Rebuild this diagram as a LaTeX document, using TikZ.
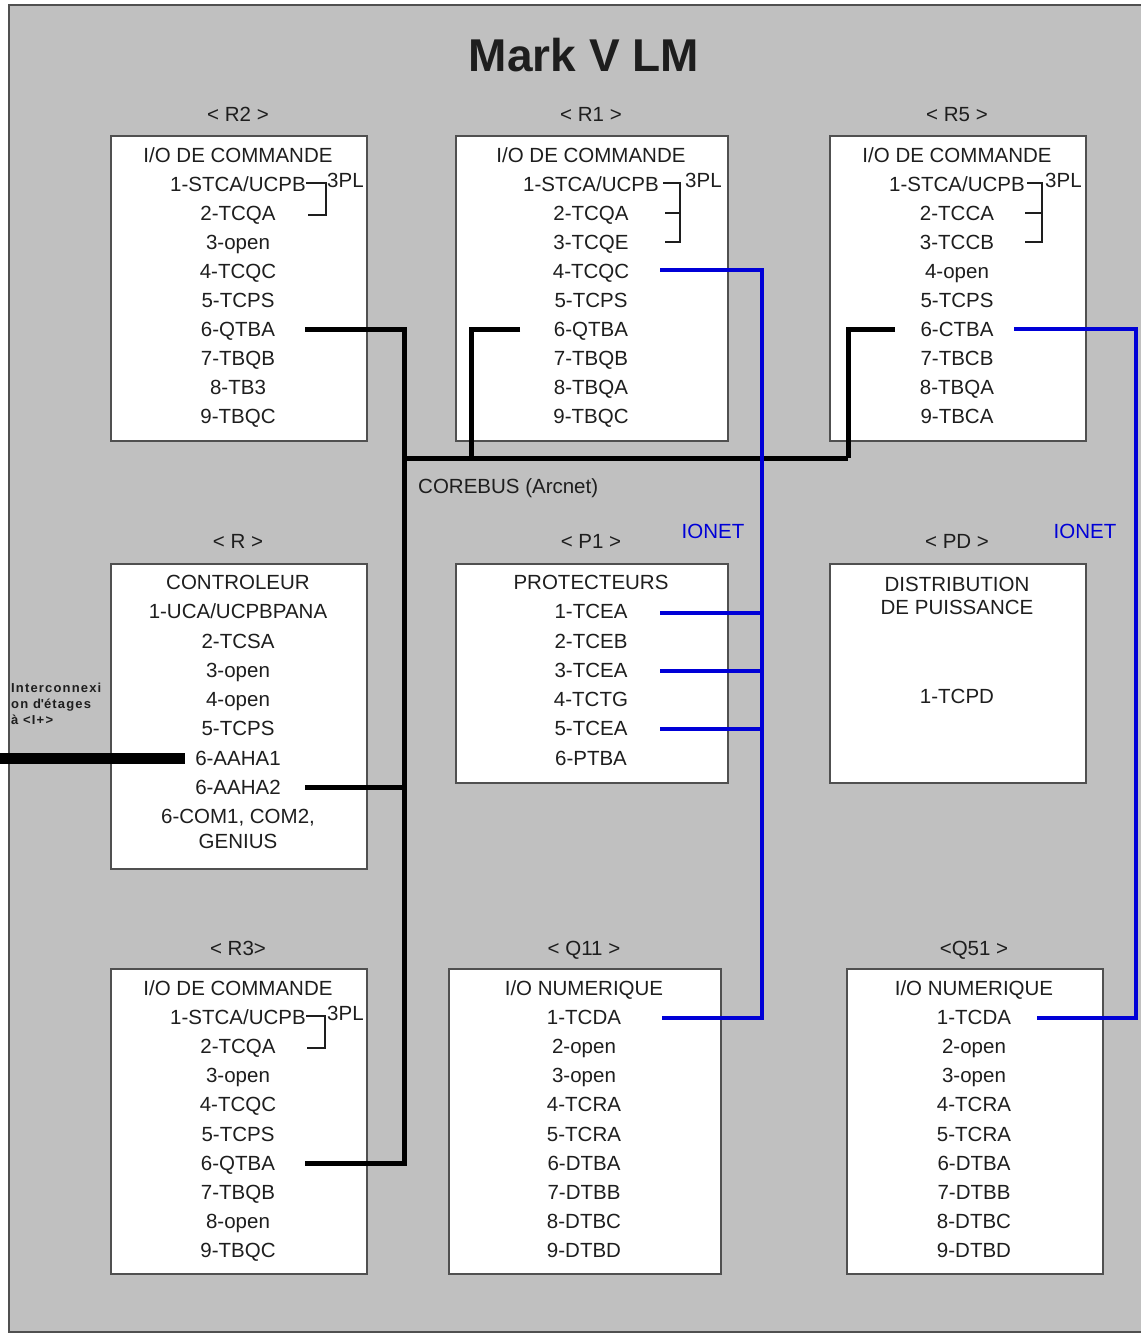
\documentclass[tikz,border=0pt]{standalone}
\usepackage{fontspec}
\setmainfont{Liberation Sans}
\newfontfamily\tinyfont[LetterSpace=9]{Liberation Sans}
\usetikzlibrary{calc}
\definecolor{bg}{HTML}{C0C0C0}
\definecolor{ionet}{RGB}{0,0,215}
\definecolor{frame}{HTML}{505050}
\definecolor{ink}{HTML}{1E1E1E}
\newcommand\itemlist[5]{\foreach \t [count=\i] in {#5} \node[item] (#1-\i) at (#2,{#3+7.5+#4*(\i-1)}) {\t};}
\begin{document}
\begin{tikzpicture}[x=1pt,y=-1pt,
 box/.style={draw=frame,line width=1.6pt,fill=white,anchor=north west,inner sep=0pt},
 item/.style={inner sep=0pt,anchor=base,font=\fontsize{20.5}{24}\selectfont,text=ink},
 lbl/.style={inner sep=0pt,anchor=base,font=\fontsize{20.5}{24}\selectfont,text=ink},
 tinytxt/.style={inner sep=0pt,anchor=base west,font=\tinyfont\fontsize{13}{15}\selectfont\bfseries,text=ink},
 bus/.style={line width=5pt,black},
 ionetline/.style={line width=4pt,ionet},
 brk/.style={line width=1.5pt,ink}
]
\useasboundingbox (0,0) rectangle (1141,1334);
\fill[white] (0,0) rectangle (1141,1334);
\draw[fill=bg,draw=frame,line width=1.5pt] (9,5) rectangle (1146,1332);

% title
\node[inner sep=0pt,anchor=base,font=\fontsize{46}{50}\selectfont\bfseries,text=ink] (title) at (584,71) {Mark V LM};

% boxes
\node[box,minimum width=256pt,minimum height=305pt] (r2box) at (110,135) {};
\node[box,minimum width=272pt,minimum height=305pt] (r1box) at (455,135) {};
\node[box,minimum width=256pt,minimum height=305pt] (r5box) at (829,135) {};
\node[box,minimum width=256pt,minimum height=305pt] (rbox) at (110,563) {};
\node[box,minimum width=272pt,minimum height=219pt] (p1box) at (455,563) {};
\node[box,minimum width=256pt,minimum height=219pt] (pdbox) at (829,563) {};
\node[box,minimum width=256pt,minimum height=305pt] (r3box) at (110,968) {};
\node[box,minimum width=272pt,minimum height=305pt] (q11box) at (448,968) {};
\node[box,minimum width=256pt,minimum height=305pt] (q51box) at (846,968) {};

% box labels
\node[lbl] (r2lbl) at (238,121) {< R2 >};
\node[lbl] (r1lbl) at (591,121) {< R1 >};
\node[lbl] (r5lbl) at (957,121) {< R5 >};
\node[lbl] (rlbl) at (238,548) {< R >};
\node[lbl] (p1lbl) at (591,548) {< P1 >};
\node[lbl] (pdlbl) at (957,548) {< PD >};
\node[lbl] (r3lbl) at (238,955) {< R3>};
\node[lbl] (q11lbl) at (584,955) {< Q11 >};
\node[lbl] (q51lbl) at (974,955) {<Q51 >};

% item lists
\itemlist{r2}{238}{155}{29}{I/O DE COMMANDE,1-STCA/UCPB,2-TCQA,3-open,4-TCQC,5-TCPS,6-QTBA,7-TBQB,8-TB3,9-TBQC}
\itemlist{r1}{591}{155}{29}{I/O DE COMMANDE,1-STCA/UCPB,2-TCQA,3-TCQE,4-TCQC,5-TCPS,6-QTBA,7-TBQB,8-TBQA,9-TBQC}
\itemlist{r5}{957}{155}{29}{I/O DE COMMANDE,1-STCA/UCPB,2-TCCA,3-TCCB,4-open,5-TCPS,6-CTBA,7-TBCB,8-TBQA,9-TBCA}
\itemlist{r}{238}{582}{29.25}{CONTROLEUR,1-UCA/UCPBPANA,2-TCSA,3-open,4-open,5-TCPS,6-AAHA1,6-AAHA2,{6-COM1, COM2,}}
\node[item] (r-10) at (238,848.5) {GENIUS};
\itemlist{p1}{591}{582}{29.25}{PROTECTEURS,1-TCEA,2-TCEB,3-TCEA,4-TCTG,5-TCEA,6-PTBA}
\node[item] (pd-1) at (957,591.5) {DISTRIBUTION};
\node[item] (pd-2) at (957,614.5) {DE PUISSANCE};
\node[item] (pd-3) at (957,703.5) {1-TCPD};
\itemlist{r3}{238}{988}{29.1}{I/O DE COMMANDE,1-STCA/UCPB,2-TCQA,3-open,4-TCQC,5-TCPS,6-QTBA,7-TBQB,8-open,9-TBQC}
\itemlist{q11}{584}{988}{29.1}{I/O NUMERIQUE,1-TCDA,2-open,3-open,4-TCRA,5-TCRA,6-DTBA,7-DTBB,8-DTBC,9-DTBD}
\itemlist{q51}{974}{988}{29.1}{I/O NUMERIQUE,1-TCDA,2-open,3-open,4-TCRA,5-TCRA,6-DTBA,7-DTBB,8-DTBC,9-DTBD}

% 3PL brackets
\draw[brk] (306,183) -- (326,183) -- (326,215) -- (308,215);
\node[lbl,anchor=base west] (r2pl) at (327,187) {3PL};
\draw[brk] (663,183) -- (680,183) -- (680,242) -- (665,242);
\draw[brk] (665,213) -- (680,213);
\node[lbl,anchor=base west] (r1pl) at (685,187) {3PL};
\draw[brk] (1027,183) -- (1042,183) -- (1042,242) -- (1025,242);
\draw[brk] (1025,213) -- (1042,213);
\node[lbl,anchor=base west] (r5pl) at (1045,187) {3PL};
\draw[brk] (306,1016) -- (325,1016) -- (325,1048) -- (307,1048);
\node[lbl,anchor=base west] (r3pl) at (327,1020) {3PL};

% COREBUS
\coordinate (r2t) at (305,329);
\coordinate (r3t) at (305,1163);
\coordinate (rt) at (305,787);
\coordinate (r1t) at (520,329);
\coordinate (r5t) at (895,329);
\coordinate (bv) at (404,1163);
\coordinate (busL) at (404,458);
\coordinate (busR) at (848,458);
\coordinate (r1d) at (471,458);
\draw[bus] (r2t) -| (bv) -- (r3t);
\draw[bus] (rt) -- (rt -| bv);
\draw[bus] (busL) -- (busR);
\draw[bus] (r1t) -| (r1d);
\draw[bus] (r5t) -| (busR);
\node[inner sep=0pt,anchor=base west,font=\fontsize{20.5}{24}\selectfont,text=ink] (corebus) at (418,493) {COREBUS (Arcnet)};

% interconnexion
\coordinate (ext) at (0,758);
\coordinate (aaha1t) at (185,758);
\draw[line width=11pt,black] (ext) -- (aaha1t);
\node[tinytxt] (ic1) at (11,692) {Interconnexi};
\node[tinytxt] (ic2) at (11,708) {on d\textquotesingle étages};
\node[tinytxt] (ic3) at (11,724) {à <I+>};

% IONET
\coordinate (r1t4) at (660,270);
\coordinate (iv1) at (762,1018);
\coordinate (q11t) at (662,1018);
\coordinate (p1t1) at (660,613);
\coordinate (p1t3) at (660,671);
\coordinate (p1t5) at (660,729);
\draw[ionetline] (r1t4) -| (iv1) -- (q11t);
\draw[ionetline] (p1t1) -- (p1t1 -| iv1);
\draw[ionetline] (p1t3) -- (p1t3 -| iv1);
\draw[ionetline] (p1t5) -- (p1t5 -| iv1);
\coordinate (r5t6) at (1014,329);
\coordinate (iv2) at (1136,1018);
\coordinate (q51t) at (1037,1018);
\draw[ionetline] (r5t6) -| (iv2) -- (q51t);
\node[inner sep=0pt,anchor=base,font=\fontsize{20.5}{24}\selectfont,text=ionet] (ionet1) at (713,538) {IONET};
\node[inner sep=0pt,anchor=base,font=\fontsize{20.5}{24}\selectfont,text=ionet] (ionet2) at (1085,538) {IONET};
\end{tikzpicture}
\end{document}
